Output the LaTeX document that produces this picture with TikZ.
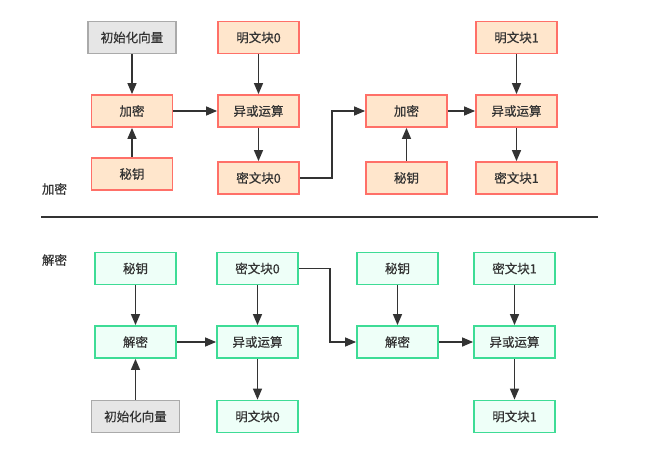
\documentclass[tikz,border=0pt]{standalone}
\usepackage{fontspec}
\newfontfamily\cjk[FakeBold=0.6]{Noto Sans CJK SC}
\usetikzlibrary{arrows.meta}
\definecolor{encfill}{HTML}{FFE6CC}
\definecolor{encdraw}{HTML}{FF7068}
\definecolor{decfill}{HTML}{EEFFF8}
\definecolor{decdraw}{HTML}{3EDC96}
\definecolor{ivfill}{HTML}{E6E6E6}
\definecolor{ivdraw}{HTML}{AAAAAA}
\definecolor{txt}{HTML}{333333}
\tikzset{
  box/.style={rectangle, minimum width=81pt, minimum height=32pt, inner sep=0pt,
    line width=1.8pt, font=\cjk\fontsize{12.5}{13}\selectfont, text=txt},
  encbox/.style={box, fill=encfill, draw=encdraw},
  decbox/.style={box, fill=decfill, draw=decdraw},
  ivbox/.style={box, fill=ivfill, draw=ivdraw, minimum width=88pt},
  conn/.style={draw=txt, line width=1.4pt, -{Triangle[length=11pt,width=9pt]}},
  plainline/.style={draw=txt, line width=1.4pt},
  lbl/.style={font=\cjk\fontsize{12.5}{13}\selectfont, text=txt},
}
\begin{document}
\begin{tikzpicture}[x=1pt,y=-1pt]
\useasboundingbox (0,0) rectangle (660,453);
% encryption
\node[ivbox]  (iv1)  at (132,37.5)   {初始化向量};
\node[encbox] (p0)   at (258.5,37.5) {明文块0};
\node[encbox] (enc1) at (132,111)    {加密};
\node[encbox] (xor1) at (258.5,111)  {异或运算};
\node[encbox] (key1) at (132,174)    {秘钥};
\node[encbox] (c0)   at (258.5,178)  {密文块0};
\node[encbox] (enc2) at (406.5,111)  {加密};
\node[encbox] (p1)   at (516.5,37.5) {明文块1};
\node[encbox] (xor2) at (516.5,111)  {异或运算};
\node[encbox] (key2) at (406.5,178)  {秘钥};
\node[encbox] (c1)   at (516.5,178)  {密文块1};
\node[lbl] (lenc) at (54.5,189) {加密};
\coordinate (sepl) at (41,217);
\coordinate (sepr) at (598,217);
\draw[plainline] (sepl) -- (sepr);
\draw[conn] (iv1) -- (enc1);
\draw[conn] (key1) -- (enc1);
\draw[conn] (enc1) -- (xor1);
\draw[conn] (p0) -- (xor1);
\draw[conn] (xor1) -- (c0);
\draw[conn] (c0.east) -- ++(32,0) |- (enc2.west);
\draw[conn] (key2) -- (enc2);
\draw[conn] (enc2) -- (xor2);
\draw[conn] (p1) -- (xor2);
\draw[conn] (xor2) -- (c1);
% decryption
\node[lbl] (ldec) at (54.5,260) {解密};
\node[decbox] (dkey1) at (135.5,268.5) {秘钥};
\node[decbox] (dc0)   at (257.5,268.5) {密文块0};
\node[decbox] (dec1)  at (135.5,342)   {解密};
\node[decbox] (dxor1) at (257.5,342)   {异或运算};
\node[ivbox]  (div)   at (135.5,416.5) {初始化向量};
\node[decbox] (dp0)   at (257.5,416.5) {明文块0};
\node[decbox] (dkey2) at (397.5,268.5) {秘钥};
\node[decbox] (dec2)  at (397.5,342)   {解密};
\node[decbox] (dc1)   at (514.5,268.5) {密文块1};
\node[decbox] (dxor2) at (514.5,342)   {异或运算};
\node[decbox] (dp1)   at (514.5,416.5) {明文块1};
\draw[conn] (dkey1) -- (dec1);
\draw[conn] (div) -- (dec1);
\draw[conn] (dec1) -- (dxor1);
\draw[conn] (dc0) -- (dxor1);
\draw[conn] (dxor1) -- (dp0);
\draw[conn] (dc0.east) -- ++(31,0) |- (dec2.west);
\draw[conn] (dkey2) -- (dec2);
\draw[conn] (dec2) -- (dxor2);
\draw[conn] (dc1) -- (dxor2);
\draw[conn] (dxor2) -- (dp1);
\end{tikzpicture}
\end{document}
